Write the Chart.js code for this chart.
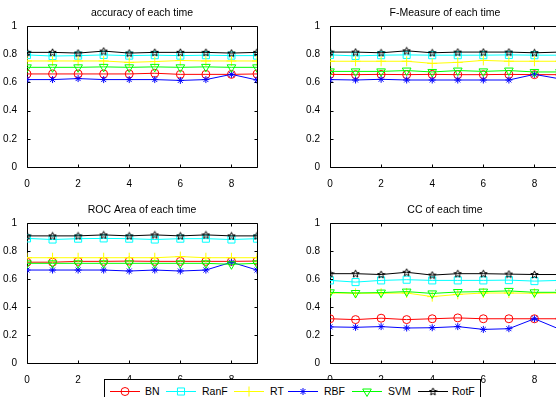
<!DOCTYPE html>
<html>
<head>
<meta charset="utf-8">
<script src="https://cdn.jsdelivr.net/npm/chart.js@4/dist/chart.umd.min.js"></script>
<style>
  html, body { margin: 0; padding: 0; background: #fff; }
  body { width: 556px; height: 397px; overflow: hidden; position: relative; font-family: "Liberation Sans", Arial, sans-serif; }
  .panel { position: absolute; }
  #legend { position: absolute; left: 104px; top: 379px; width: 375px; height: 30px; border: 1px solid #000; background: #fff; z-index: 5; }
  #legend .key { position: absolute; top: 4px; }
  #legend .lbl { position: absolute; top: 4px; font-size: 10.5px; line-height: 14px; color: #000; white-space: nowrap; }
</style>
</head>
<body>
<canvas id="cAcc" class="panel"></canvas>
<canvas id="cF" class="panel"></canvas>
<canvas id="cRoc" class="panel"></canvas>
<canvas id="cCC" class="panel"></canvas>
<div id="legend"></div>
<script>
// Run index (x axis) and axis tick values
const runs = [0, 1, 2, 3, 4, 5, 6, 7, 8, 9];
const xTickValues = [0, 2, 4, 6, 8];
const yTickValues = [0, 0.2, 0.4, 0.6, 0.8, 1];

const seriesNames = ['BN', 'RanF', 'RT', 'RBF', 'SVM', 'RotF'];

// accuracy of each time
const accBN   = [0.660, 0.660, 0.660, 0.660, 0.660, 0.665, 0.657, 0.657, 0.657, 0.660];
const accRanF = [0.795, 0.787, 0.790, 0.795, 0.790, 0.793, 0.790, 0.793, 0.790, 0.790];
const accRT   = [0.752, 0.752, 0.752, 0.752, 0.742, 0.748, 0.755, 0.752, 0.752, 0.752];
const accRBF  = [0.620, 0.620, 0.627, 0.620, 0.620, 0.620, 0.614, 0.620, 0.657, 0.617];
const accSVM  = [0.707, 0.707, 0.707, 0.710, 0.707, 0.710, 0.707, 0.710, 0.707, 0.707];
const accRotF = [0.813, 0.813, 0.808, 0.822, 0.808, 0.813, 0.813, 0.813, 0.808, 0.813];

// F-Measure of each time
const fmBN   = [0.657, 0.655, 0.657, 0.655, 0.657, 0.655, 0.655, 0.657, 0.655, 0.655];
const fmRanF = [0.795, 0.788, 0.793, 0.795, 0.793, 0.793, 0.793, 0.795, 0.793, 0.793];
const fmRT   = [0.750, 0.750, 0.750, 0.750, 0.735, 0.742, 0.756, 0.750, 0.750, 0.750];
const fmRBF  = [0.620, 0.617, 0.622, 0.617, 0.617, 0.617, 0.617, 0.617, 0.657, 0.625];
const fmSVM  = [0.678, 0.678, 0.678, 0.684, 0.674, 0.684, 0.678, 0.684, 0.674, 0.674];
const fmRotF = [0.815, 0.815, 0.810, 0.824, 0.810, 0.815, 0.815, 0.815, 0.810, 0.815];

// ROC Area of each time
const rocBN   = [0.720, 0.720, 0.726, 0.726, 0.728, 0.726, 0.726, 0.726, 0.726, 0.728];
const rocRanF = [0.890, 0.882, 0.888, 0.890, 0.888, 0.882, 0.888, 0.888, 0.882, 0.888];
const rocRT   = [0.752, 0.752, 0.752, 0.752, 0.752, 0.752, 0.760, 0.752, 0.752, 0.752];
const rocRBF  = [0.664, 0.664, 0.664, 0.664, 0.657, 0.664, 0.657, 0.664, 0.720, 0.664];
const rocSVM  = [0.712, 0.712, 0.712, 0.712, 0.712, 0.712, 0.712, 0.712, 0.705, 0.712];
const rocRotF = [0.908, 0.908, 0.908, 0.915, 0.908, 0.915, 0.908, 0.915, 0.908, 0.908];

// CC of each time
const ccBN   = [0.316, 0.310, 0.320, 0.310, 0.316, 0.322, 0.316, 0.316, 0.316, 0.316];
const ccRanF = [0.590, 0.578, 0.590, 0.595, 0.590, 0.590, 0.590, 0.592, 0.585, 0.590];
const ccRT   = [0.500, 0.498, 0.498, 0.500, 0.474, 0.490, 0.500, 0.500, 0.498, 0.500];
const ccRBF  = [0.258, 0.255, 0.260, 0.250, 0.252, 0.260, 0.240, 0.245, 0.316, 0.240];
const ccSVM  = [0.505, 0.500, 0.503, 0.510, 0.497, 0.507, 0.510, 0.515, 0.505, 0.505];
const ccRotF = [0.638, 0.638, 0.632, 0.648, 0.628, 0.638, 0.638, 0.635, 0.632, 0.632];

// hollow five-pointed star marker for RotF
function makePentagram(size, color) {
  const c = document.createElement('canvas');
  c.width = size; c.height = size;
  const g = c.getContext('2d');
  const cx = size / 2, cy = size / 2 + 0.3, R = size / 2 - 0.6, r = R * 0.45;
  g.beginPath();
  for (let i = 0; i < 10; i++) {
    const ang = -Math.PI / 2 + i * Math.PI / 5;
    const rad = i % 2 === 0 ? R : r;
    const px = cx + rad * Math.cos(ang), py = cy + rad * Math.sin(ang);
    if (i === 0) g.moveTo(px, py); else g.lineTo(px, py);
  }
  g.closePath();
  g.strokeStyle = color; g.lineWidth = 1;
  g.stroke();
  return c;
}
const pentagram = makePentagram(9, '#000');

// line style per classifier
const styles = {
  BN:   { color: '#ff0000', pointStyle: 'circle',   radius: 4,   rotation: 0 },
  RanF: { color: '#00ffff', pointStyle: 'rect',     radius: 5,   rotation: 0 },
  RT:   { color: '#ffff00', pointStyle: 'cross',    radius: 5,   rotation: 0 },
  RBF:  { color: '#0000ff', pointStyle: 'star',     radius: 3.5, rotation: 0 },
  SVM:  { color: '#00ff00', pointStyle: 'triangle', radius: 5,   rotation: 180 },
  RotF: { color: '#000000', pointStyle: pentagram,  radius: 4.5, rotation: 0 }
};

const FONT = "'Liberation Sans', Arial, sans-serif";

// closed box with inward ticks on all four sides
const boxAxes = {
  id: 'boxAxes',
  beforeDatasetsDraw(chart) {
    const { ctx, chartArea: a, scales: { x, y } } = chart;
    const L = Math.round(a.left) + 0.5, R = Math.round(a.right) + 0.5;
    const T = Math.round(a.top) + 0.5, B = Math.round(a.bottom) + 0.5;
    const len = 3;
    ctx.save();
    ctx.strokeStyle = '#000';
    ctx.lineWidth = 1;
    ctx.beginPath();
    ctx.rect(L, T, R - L, B - T);
    x.ticks.forEach(t => {
      const px = Math.round(x.getPixelForValue(t.value)) + 0.5;
      ctx.moveTo(px, B); ctx.lineTo(px, B - len);
      ctx.moveTo(px, T); ctx.lineTo(px, T + len);
    });
    y.ticks.forEach(t => {
      const py = Math.round(y.getPixelForValue(t.value)) + 0.5;
      ctx.moveTo(L, py); ctx.lineTo(L + len, py);
      ctx.moveTo(R, py); ctx.lineTo(R - len, py);
    });
    ctx.stroke();
    ctx.restore();
  }
};

function buildDatasets(valuesBySeries) {
  return seriesNames.map((name, i) => {
    const s = styles[name];
    return {
      label: name,
      data: runs.map((r, k) => ({ x: r, y: valuesBySeries[i][k] })),
      borderColor: s.color,
      borderWidth: 1,
      pointStyle: s.pointStyle,
      pointRadius: s.radius,
      pointRotation: s.rotation,
      pointBorderColor: s.color,
      pointBackgroundColor: 'rgba(0,0,0,0)',
      pointBorderWidth: 1,
      tension: 0,
      order: seriesNames.length - i
    };
  });
}

function makePanel(id, left, top, plotH, title, valuesBySeries) {
  const cv = document.getElementById(id);
  const W = 27 + 230 + 10, H = 26 + plotH + 20;
  cv.width = W; cv.height = H;
  cv.style.left = left + 'px'; cv.style.top = top + 'px';
  cv.style.width = W + 'px'; cv.style.height = H + 'px';
  return new Chart(cv, {
    type: 'line',
    data: { datasets: buildDatasets(valuesBySeries) },
    options: {
      responsive: false,
      animation: false,
      devicePixelRatio: 1,
      layout: { padding: { left: 0, right: 10, top: 0, bottom: 0 } },
      plugins: {
        legend: { display: false },
        tooltip: { enabled: false },
        title: {
          display: true,
          text: title,
          fullSize: false,
          color: '#000',
          font: { family: FONT, size: 10.5, weight: 'normal', lineHeight: 1 },
          padding: { top: 8, bottom: 7.5 }
        }
      },
      scales: {
        x: {
          type: 'linear',
          min: 0, max: 9,
          grid: { display: false },
          border: { display: false },
          afterFit: s => { s.height = 20; },
          afterBuildTicks: s => { s.ticks = xTickValues.map(v => ({ value: v })); },
          ticks: { color: '#000', padding: 3, maxRotation: 0, autoSkip: false,
                   font: { family: FONT, size: 10 } }
        },
        y: {
          type: 'linear',
          min: 0, max: 1,
          grid: { display: false },
          border: { display: false },
          afterFit: s => { s.width = 27; },
          afterBuildTicks: s => { s.ticks = yTickValues.map(v => ({ value: v })); },
          ticks: { color: '#000', padding: 2, autoSkip: false,
                   font: { family: FONT, size: 10 },
                   callback: v => String(+Number(v).toFixed(1)) }
        }
      }
    },
    plugins: [boxAxes]
  });
}

makePanel('cAcc', 0, 0, 141, 'accuracy of each time',
  [accBN, accRanF, accRT, accRBF, accSVM, accRotF]);
makePanel('cF', 303, 0, 141, 'F-Measure of each time',
  [fmBN, fmRanF, fmRT, fmRBF, fmSVM, fmRotF]);
makePanel('cRoc', 0, 197, 140, 'ROC Area of each time',
  [rocBN, rocRanF, rocRT, rocRBF, rocSVM, rocRotF]);
makePanel('cCC', 303, 197, 140, 'CC of each time',
  [ccBN, ccRanF, ccRT, ccRBF, ccSVM, ccRotF]);

// shared legend: line sample with marker, then the name
const legendKeyLeft = [5, 61, 129, 183, 247, 313];
const legendTextLeft = [40, 97, 165, 219, 283, 347];
const legend = document.getElementById('legend');
seriesNames.forEach((name, i) => {
  const s = styles[name];
  const key = document.createElement('canvas');
  key.className = 'key';
  key.width = 30; key.height = 14;
  key.style.left = legendKeyLeft[i] + 'px';
  legend.appendChild(key);
  const g = key.getContext('2d');
  g.strokeStyle = s.color; g.lineWidth = 1;
  g.beginPath(); g.moveTo(0, 7.5); g.lineTo(30, 7.5); g.stroke();
  g.fillStyle = 'rgba(0,0,0,0)';
  Chart.helpers.drawPoint(g, { pointStyle: s.pointStyle, rotation: s.rotation, radius: s.radius, borderWidth: 1 }, 15, 7.5);
  const lbl = document.createElement('span');
  lbl.className = 'lbl';
  lbl.style.left = legendTextLeft[i] + 'px';
  lbl.textContent = name;
  legend.appendChild(lbl);
});
</script>
</body>
</html>
